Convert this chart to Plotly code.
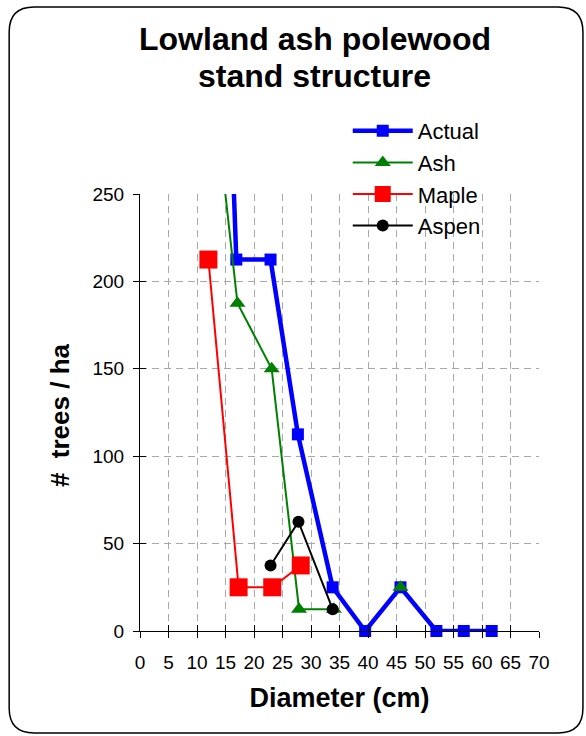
import plotly.graph_objects as go

# ---- data ----
actual_x = [12.0, 16.9, 22.9, 27.7, 33.8, 39.5, 45.7, 52.0, 56.8, 61.7]
actual_y = [650, 212.5, 212.5, 112.5, 25, 0, 25, 0, 0, 0]
ash_x = [12.0, 17.1, 23.1, 27.9, 34.0, 39.5, 45.7]
ash_y = [337.5, 187.5, 150, 12.5, 12.5, None, 25]
maple_x = [12.0, 17.3, 23.2, 28.2]
maple_y = [212.5, 25, 25, 37.5]
aspen_x = [22.9, 27.8, 33.8]
aspen_y = [37.5, 62.5, 12.5]
x_ticks = list(range(0, 75, 5))
y_ticks = list(range(0, 300, 50))

W, H = 586, 736
L, R, T, B = 140, 539.5, 194, 631   # plot area in pixels
FONT = "Liberation Sans, Arial, sans-serif"


def px(xp):
    return (xp - L) / (R - L)


def py(yp):
    return (B - yp) / (B - T)


fig = go.Figure()
fig.add_trace(go.Scatter(x=actual_x, y=actual_y, name="Actual", mode="lines+markers",
                         line=dict(color="#0000FF", width=4.5),
                         marker=dict(symbol="square", size=12, color="#0000FF"),
                         cliponaxis=False))
fig.add_trace(go.Scatter(x=ash_x, y=ash_y, name="Ash", mode="lines+markers",
                         line=dict(color="#008000", width=2),
                         marker=dict(symbol="triangle-up", size=14, color="#008000"),
                         connectgaps=False, cliponaxis=False))
fig.add_trace(go.Scatter(x=maple_x, y=maple_y, name="Maple", mode="lines+markers",
                         line=dict(color="#FF0000", width=2),
                         marker=dict(symbol="square", size=18, color="#FF0000"),
                         cliponaxis=False))
fig.add_trace(go.Scatter(x=aspen_x, y=aspen_y, name="Aspen", mode="lines+markers",
                         line=dict(color="#000000", width=2),
                         marker=dict(symbol="circle", size=12, color="#000000"),
                         cliponaxis=False))
# invisible trace to carry the overlay axes (inner half of crossing ticks)
fig.add_trace(go.Scatter(x=[None], y=[None], xaxis="x2", yaxis="y2",
                         showlegend=False, hoverinfo="skip"))

grid = dict(showgrid=True, gridcolor="#A8A8A8", gridwidth=1, griddash="7px,5px")
fig.update_layout(
    width=W, height=H,
    margin=dict(l=L, r=W - R, t=T, b=H - B),
    paper_bgcolor="white", plot_bgcolor="white",
    font=dict(family=FONT, color="black", size=19),
    showlegend=True,
    legend=dict(x=px(348), y=py(110), xanchor="left", yanchor="top",
                font=dict(size=22, family=FONT), bgcolor="rgba(0,0,0,0)",
                itemwidth=60, tracegroupgap=0),
    xaxis=dict(range=[0, 70], tickvals=x_ticks, ticks="outside", ticklen=6,
               tickcolor="black", showline=True, linecolor="black", linewidth=1,
               zeroline=False, tickfont=dict(size=19), ticklabelstandoff=8, **grid,
               title=dict(text="<b>Diameter (cm)</b>", font=dict(size=27), standoff=16)),
    yaxis=dict(range=[0, 250], tickvals=y_ticks, ticks="outside", ticklen=6,
               tickcolor="black", showline=True, linecolor="black", linewidth=1,
               zeroline=False, tickfont=dict(size=19), ticklabelstandoff=5, **grid),
    xaxis2=dict(range=[0, 70], tickvals=x_ticks, ticks="inside", ticklen=6,
                tickcolor="black", overlaying="x", anchor="y", side="bottom",
                showticklabels=False, showgrid=False, zeroline=False, showline=False),
    yaxis2=dict(range=[0, 250], tickvals=y_ticks, ticks="inside", ticklen=6,
                tickcolor="black", overlaying="y", anchor="x", side="left",
                showticklabels=False, showgrid=False, zeroline=False, showline=False),
)

# title (two lines, tight spacing)
fig.add_annotation(text="<b>Lowland ash polewood</b>", xref="paper", yref="paper",
                   x=px(315), y=py(39), showarrow=False, font=dict(size=32, family=FONT),
                   xanchor="center", yanchor="middle")
fig.add_annotation(text="<b>stand structure</b>", xref="paper", yref="paper",
                   x=px(315), y=py(76), showarrow=False, font=dict(size=32, family=FONT),
                   xanchor="center", yanchor="middle")
# y-axis title
fig.add_annotation(text="<b>#  trees / ha</b>", xref="paper", yref="paper",
                   x=px(60), y=py(415), showarrow=False, textangle=-90,
                   font=dict(size=26, family=FONT), xanchor="center", yanchor="middle")

# rounded outer frame
x0, x1 = px(9), px(583.5)
y0, y1 = py(733), py(7)
rx = 25 / (R - L)
ry = 25 / (B - T)
path = (f"M {x0 + rx},{y1} L {x1 - rx},{y1} Q {x1},{y1} {x1},{y1 - ry} "
        f"L {x1},{y0 + ry} Q {x1},{y0} {x1 - rx},{y0} "
        f"L {x0 + rx},{y0} Q {x0},{y0} {x0},{y0 + ry} "
        f"L {x0},{y1 - ry} Q {x0},{y1} {x0 + rx},{y1} Z")
fig.add_shape(type="path", path=path, xref="paper", yref="paper",
              line=dict(color="black", width=1.5), layer="below")

fig.write_html("out.html", config={"displayModeBar": False},
               post_script="document.body.style.margin='0';")
